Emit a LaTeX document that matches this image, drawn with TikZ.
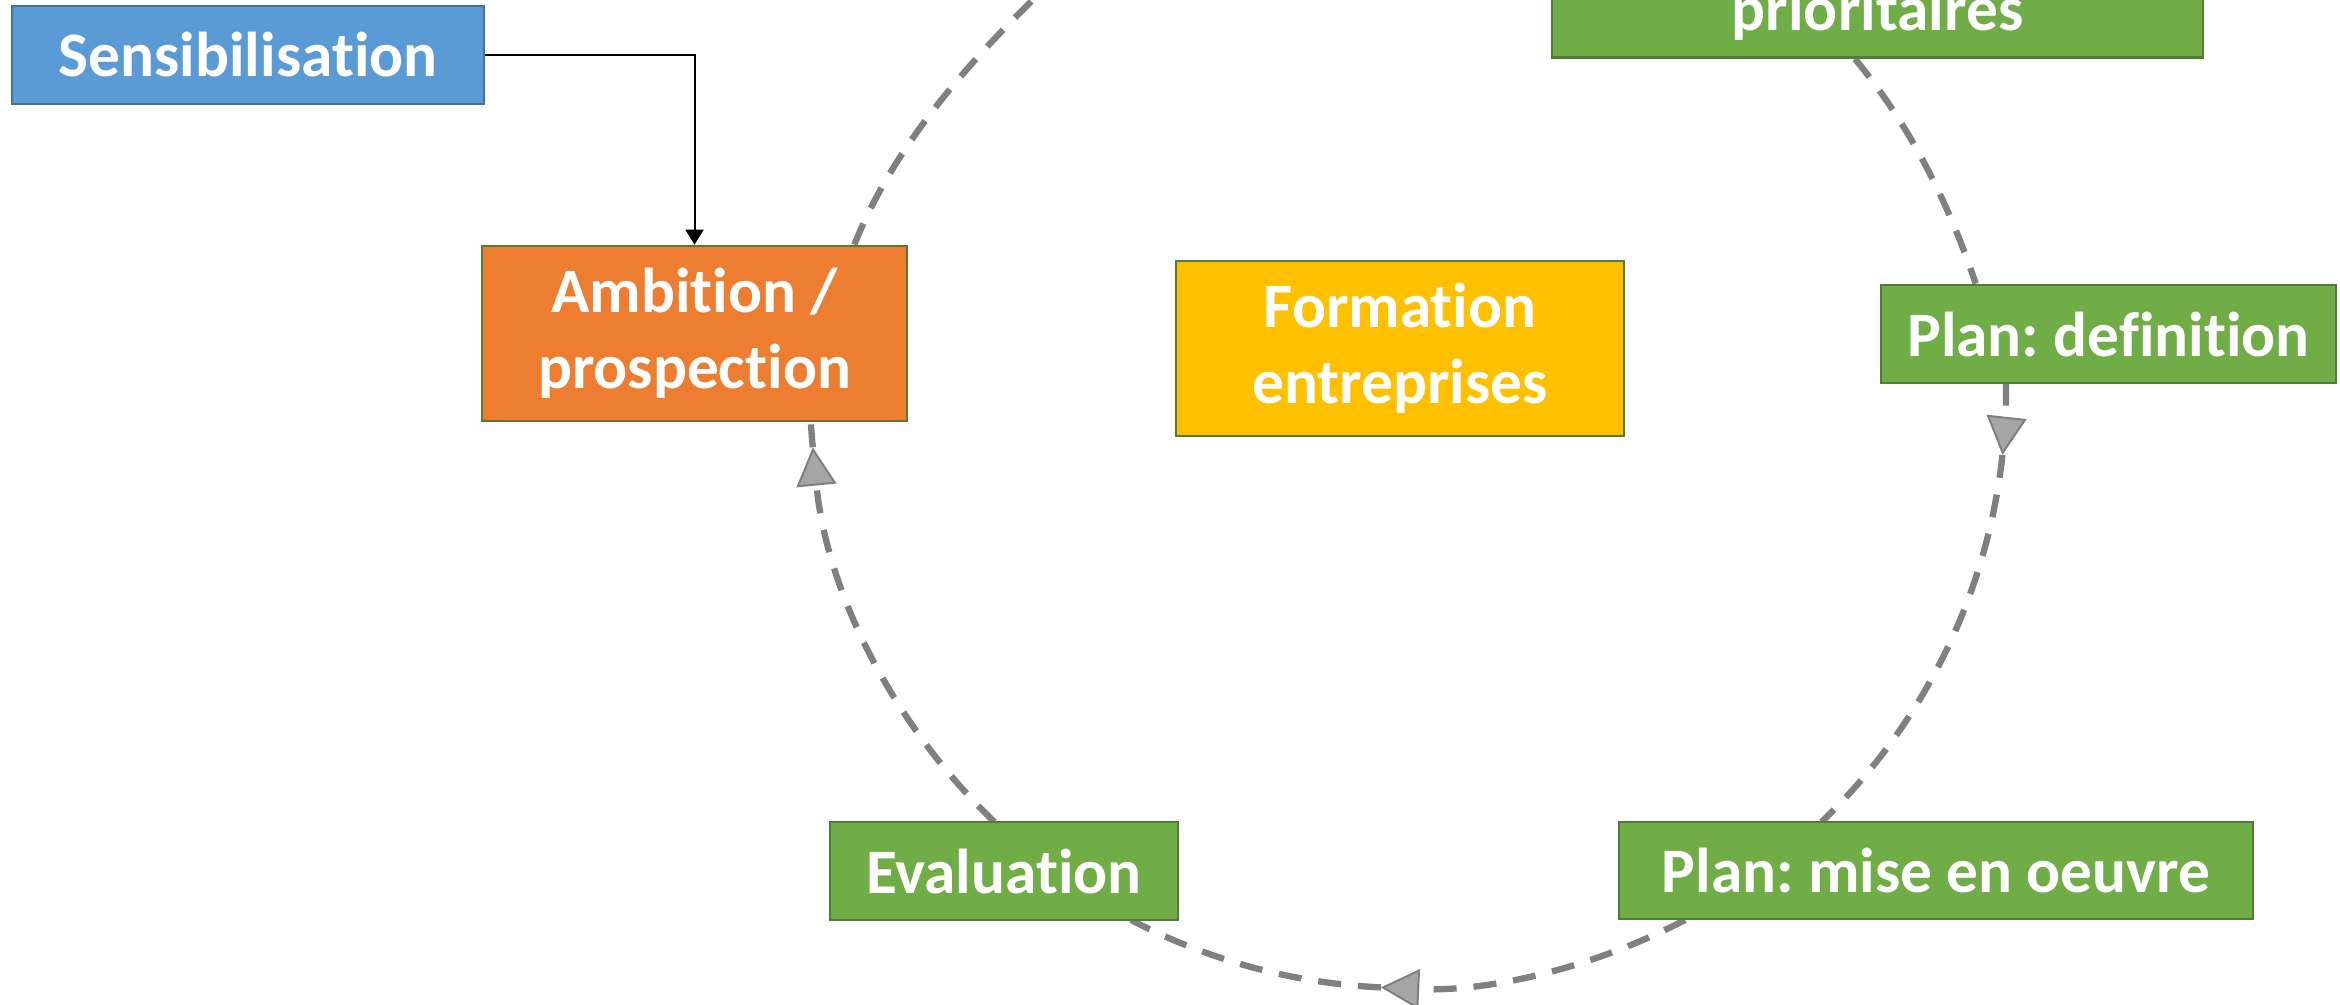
\documentclass[tikz,border=0pt]{standalone}
\usepackage{fontspec}
\setmainfont{Carlito}[Ligatures={NoCommon}]
\frenchspacing
\usetikzlibrary{arrows.meta}
\definecolor{blueF}{HTML}{5B9BD5}
\definecolor{blueD}{HTML}{41719C}
\definecolor{orangeF}{HTML}{ED7D31}
\definecolor{greenF}{HTML}{70AD47}
\definecolor{greenD}{HTML}{507E32}
\definecolor{goldF}{HTML}{FFC000}
\definecolor{cycgray}{HTML}{808080}
\definecolor{tipgray}{HTML}{A5A5A5}
\pgfdeclarelayer{background}
\pgfsetlayers{background,main}
\begin{document}
\begin{tikzpicture}[x=0.3pt,y=-0.3pt,
  box/.style={draw=greenD, line width=0.8pt, inner sep=0pt, text=white,
    font=\fontsize{19}{22.8}\selectfont\bfseries\frenchspacing, align=center},
  bluebox/.style={box, fill=blueF, draw=blueD},
  orangebox/.style={box, fill=orangeF},
  goldbox/.style={box, fill=goldF},
  greenbox/.style={box, fill=greenF},
  lbl/.style={inner sep=0pt, text=white, font=\fontsize{19}{22.8}\selectfont\bfseries},
  cyc/.style={draw=cycgray, line width=1.9pt, dash pattern=on 6.9pt off 5.1pt},
  cyctip/.style={-{Triangle[length=11.5pt, width=12pt, fill=tipgray, color=cycgray, line width=0.6pt]}},
  conn/.style={draw=black, line width=0.6pt, -{Triangle[length=4.5pt, width=5.4pt]}}]
\useasboundingbox (0,0) rectangle (2340,1004);
\clip (0,0) rectangle (2340,1004);

% boxes
\node[bluebox, minimum width=141.6pt, minimum height=29.4pt] (sens) at (248,55) {Sensibilisation};
\node[orangebox, minimum width=127.5pt, minimum height=52.5pt] (amb) at (694.5,333.5) {Ambition /\\prospection};
\node[goldbox, minimum width=134.4pt, minimum height=52.5pt] (form) at (1400,348.5) {Formation\\entreprises};
\node[greenbox, minimum width=195.3pt, minimum height=52.5pt, anchor=south] (prio) at (1877.5,59) {};
\node[lbl, anchor=base] (prioText) at (1877.5,30) {prioritaires};
\node[greenbox, minimum width=136.5pt, minimum height=29.4pt] (pdef) at (2108.5,334) {Plan: definition};
\node[greenbox, minimum width=190.2pt, minimum height=29.1pt] (pmise) at (1936,870.5) {Plan: mise en oeuvre};
\node[greenbox, minimum width=104.4pt, minimum height=29.4pt] (eval) at (1004,871) {Evaluation};

\coordinate (O) at (1408,390);
\coordinate (topA) at (1048,-15);

\begin{pgfonlayer}{background}
  % top-left arc, leaving the frame
  \draw[cyc] ([xshift=-16.2pt]amb.north east) .. controls (894,145) and (970,60) .. (topA);
  % prioritaires -> plan definition
  \draw[cyc] ([xshift=-6.75pt]prio.south) .. controls (1910,125) and (1949,204) .. ([xshift=28.8pt]pdef.north west);
  % plan definition -> plan mise en oeuvre
  \draw[cyc, cyctip] ([shift={(-0.7:598)}]O) arc[start angle=-0.7, end angle=6.24, radius=598];
  \draw[cyc] ([shift={(6.24:598)}]O) arc[start angle=6.24, end angle=46.25, radius=598];
  % plan mise en oeuvre -> evaluation
  \draw[cyc, cyctip] ([shift={(62.4:598)}]O) arc[start angle=62.4, end angle=92.6, radius=598];
  \draw[cyc] ([shift={(92.6:598)}]O) arc[start angle=92.6, end angle=117.6, radius=598];
  % evaluation -> ambition
  \draw[cyc, cyctip] ([shift={(133.75:598)}]O) arc[start angle=133.75, end angle=174.5, radius=598];
  \draw[cyc] ([shift={(174.5:598)}]O) arc[start angle=174.5, end angle=177, radius=598];
\end{pgfonlayer}

\draw[conn] (sens.east) -| (amb.north);
\end{tikzpicture}
\end{document}
